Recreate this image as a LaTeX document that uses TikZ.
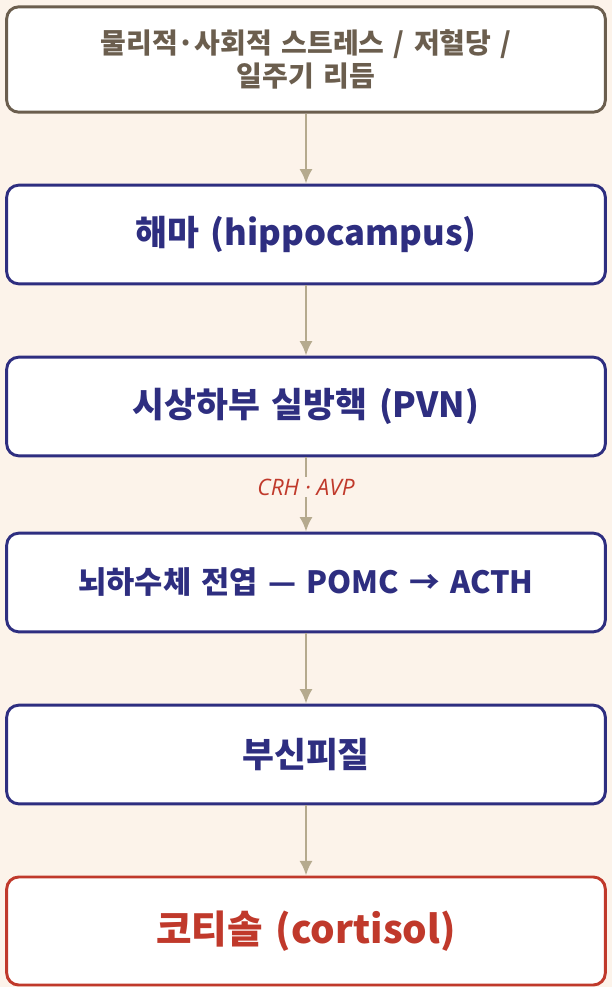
\documentclass[tikz,border=0pt]{standalone}
\usepackage{fontspec}
\setmainfont{Noto Sans CJK KR}
\newfontfamily\labfont{Open Sans}
\usetikzlibrary{arrows.meta,positioning}
\definecolor{cream}{HTML}{FCF3EA}
\definecolor{stressc}{HTML}{6B5E4E}
\definecolor{navy}{HTML}{2E2E80}
\definecolor{cortc}{HTML}{C0392B}
\definecolor{arrowc}{HTML}{B5AA8E}
\tikzset{
  stage/.style={draw=navy, fill=white, line width=2.2pt, rounded corners=9pt,
    minimum width=449pt, minimum height=74pt, text width=440pt, align=center,
    text=navy, font=\bfseries\fontsize{26}{30}\selectfont},
  stress/.style={stage, draw=stressc, text=stressc, minimum height=79pt,
    font=\bfseries\fontsize{21}{25}\selectfont},
  cort/.style={stage, draw=cortc, text=cortc, minimum height=81pt,
    font=\bfseries\fontsize{29}{34}\selectfont},
  flow/.style={draw=arrowc, line width=2.2pt, -{Latex[length=11pt,width=10pt]}},
}
\begin{document}
\begin{tikzpicture}[x=0.75pt,y=-0.75pt]
\useasboundingbox[fill=cream] (0,0) rectangle (612,987);
\node[stress] (src) at (306,59.5) {물리적·사회적 스트레스 / 저혈당 /\\일주기 리듬};
\node[stage] (hip) at (306,234.5) {해마 (hippocampus)};
\node[stage] (pvn) at (306,406.5) {시상하부 실방핵 (PVN)};
\node[stage, font=\bfseries\fontsize{23}{27}\selectfont] (pit) at (306,582.5) {뇌하수체 전엽 — POMC → ACTH};
\node[stage] (adr) at (306,754.5) {부신피질};
\node[cort] (cor) at (306,931) {코티솔 (cortisol)};
\draw[flow] (src) -- (hip);
\draw[flow] (hip) -- (pvn);
\draw[flow] (pvn) -- node[fill=cream, text=cortc, inner sep=1pt,
  font=\labfont\itshape\fontsize{17}{20}\selectfont, pos=0.4] (hor) {CRH · AVP} (pit);
\draw[flow] (pit) -- (adr);
\draw[flow] (adr) -- (cor);
\end{tikzpicture}
\end{document}
